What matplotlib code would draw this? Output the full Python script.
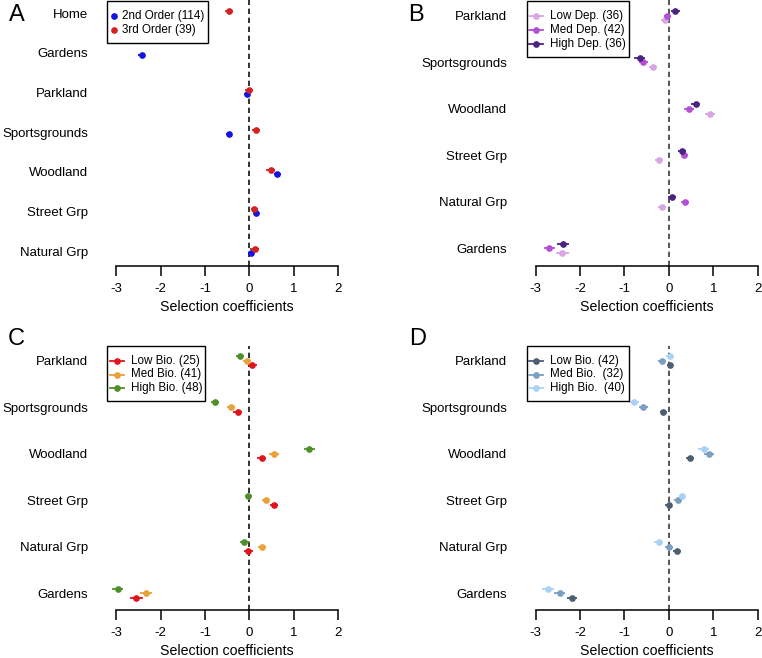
import numpy as np
import matplotlib
matplotlib.use("Agg")
import matplotlib.pyplot as plt
import matplotlib.patches as patches

plt.rcParams['font.family'] = ['Liberation Sans', 'DejaVu Sans']
plt.rcParams['axes.unicode_minus'] = False

# --- data ---
nan = np.nan
cats_a = ["Home", "Gardens", "Parkland", "Sportsgrounds", "Woodland", "Street Grp", "Natural Grp"]
order2 = [nan, -2.43, -0.06, -0.46, 0.63, 0.14, 0.03]
order2_err = [nan, 0.08, 0.07, 0.07, 0.08, 0.06, 0.07]
order3 = [-0.46, nan, -0.01, 0.15, 0.48, 0.11, 0.12]
order3_err = [0.09, nan, 0.09, 0.09, 0.10, 0.08, 0.10]
labels_a = ["2nd Order (114)", "3rd Order (39)"]

cats = ["Parkland", "Sportsgrounds", "Woodland", "Street Grp", "Natural Grp", "Gardens"]

dep_low = [-0.09, -0.35, 0.93, -0.22, -0.16, -2.40]
dep_med = [-0.04, -0.58, 0.45, 0.35, 0.36, -2.69]
dep_high = [0.14, -0.66, 0.60, 0.29, 0.07, -2.39]
dep_err = [[0.08, 0.09, 0.11, 0.09, 0.09, 0.14],
           [0.08, 0.10, 0.11, 0.08, 0.09, 0.13],
           [0.10, 0.12, 0.11, 0.09, 0.09, 0.13]]
labels_b = ["Low Dep. (36)", "Med Dep. (42)", "High Dep. (36)"]

bioc_low = [0.06, -0.26, 0.28, 0.55, -0.03, -2.55]
bioc_med = [-0.06, -0.42, 0.55, 0.37, 0.28, -2.33]
bioc_high = [-0.21, -0.78, 1.35, -0.03, -0.12, -2.97]
bioc_err = [[0.10, 0.10, 0.10, 0.09, 0.10, 0.15],
            [0.09, 0.09, 0.11, 0.09, 0.09, 0.13],
            [0.09, 0.09, 0.12, 0.08, 0.10, 0.12]]
labels_c = ["Low Bio. (25)", "Med Bio. (41)", "High Bio. (48)"]

biod_low = [0.02, -0.13, 0.48, 0.00, 0.18, -2.18]
biod_med = [-0.16, -0.58, 0.90, 0.20, 0.00, -2.46]
biod_high = [0.02, -0.78, 0.78, 0.30, -0.23, -2.72]
biod_err = [[0.07, 0.08, 0.09, 0.08, 0.09, 0.12],
            [0.09, 0.10, 0.12, 0.09, 0.09, 0.13],
            [0.08, 0.11, 0.12, 0.07, 0.10, 0.13]]
labels_d = ["Low Bio. (42)", "Med Bio.  (32)", "High Bio.  (40)"]

col_a = ["#1414e0", "#d42222"]
col_b = ["#d9a6e3", "#b24fd2", "#4a2383"]
col_c = ["#e0141c", "#e8a238", "#4f8f2a"]
col_d = ["#4b5f70", "#7b9fc2", "#a9d2f6"]

W, H = 762, 658
fig = plt.figure(figsize=(W / 100, H / 100), dpi=100)


def make_axes(left_px, top_px, bottom_px, ylim, dash_col):
    # axes rect from pixel coords; x range fixed at -3.2..2.2
    x1 = left_px + 5.4 * 44.4
    ax = fig.add_axes([left_px / W, 1 - bottom_px / H, (x1 - left_px) / W, (bottom_px - top_px) / H])
    ax.set_xlim(-3.2, 2.2)
    ax.set_ylim(*ylim)
    for s in ["top", "right", "left"]:
        ax.spines[s].set_visible(False)
    ax.spines["bottom"].set_bounds(-3, 2)
    ax.spines["bottom"].set_linewidth(1.1)
    ax.set_xticks([-3, -2, -1, 0, 1, 2])
    ax.set_xticklabels(["-3", "-2", "-1", "0", "1", "2"])
    ax.tick_params(axis="x", length=7.5, width=1.1, pad=5, labelsize=9.5)
    ax.tick_params(axis="y", length=0, pad=14, labelsize=9.5)
    ax.set_xlabel("Selection coefficients", fontsize=10.2, labelpad=3.5)
    ax.axvline(0, color=dash_col, lw=1.2, dashes=(3.2, 2.2), zorder=1)
    return ax


def draw_panel(ax, names, series, errs, colors, offsets):
    y = np.arange(len(names))
    ax.set_yticks(y)
    ax.set_yticklabels(names)
    for vals, e, c, off in zip(series, errs, colors, offsets):
        ax.errorbar(vals, y + off, xerr=e, fmt="o", color=c, ms=3.8,
                    elinewidth=1.3, capsize=0, zorder=3)


# overlay in pixel coordinates for the boxed keys and panel letters
over = fig.add_axes([0, 0, 1, 1], zorder=10)
over.set_xlim(0, W)
over.set_ylim(H, 0)
over.axis("off")


def draw_key(x0, y0, w, h, labels, colors, rows, line, text_x):
    over.add_patch(patches.Rectangle((x0, y0), w, h, facecolor="white",
                                     edgecolor="black", lw=1.0))
    for lab, c, ry in zip(labels, colors, rows):
        if line:
            over.plot([x0 + 2.6, x0 + 16.6], [ry, ry], color=c, lw=1.3)
            over.plot([x0 + 9.6], [ry], "o", color=c, ms=3.8)
        else:
            over.plot([x0 + 7], [ry], "o", color=c, ms=3.8)
        over.text(text_x, ry, lab, fontsize=8.4, va="center", ha="left")


# --- panel A ---
ax_a = make_axes(107.4, 0, 265.7, (6.37, -0.33), "#111111")
y_a = np.arange(len(cats_a))
ax_a.set_yticks(y_a)
ax_a.set_yticklabels(cats_a)
ax_a.errorbar(order2, y_a + 0.05, xerr=order2_err, fmt="o", color=col_a[0], ms=3.8,
              elinewidth=1.3, capsize=0, zorder=3)
ax_a.errorbar(order3, y_a - 0.05, xerr=order3_err, fmt="o", color=col_a[1], ms=3.8,
              elinewidth=1.3, capsize=0, zorder=3)
draw_key(107.4, 1, 100.3, 42, labels_a, col_a, [16, 30], False, 121.7)

offs = [0.1, 0.0, -0.1]

# --- panel B ---
ax_b = make_axes(526.8, 0, 265.7, (5.37, -0.34), "#3a3a3a")
draw_panel(ax_b, cats, [dep_low, dep_med, dep_high], dep_err, col_b, offs)
draw_key(526.8, 1, 102.2, 56, labels_b, col_b, [15.7, 30, 44.2], True, 550)

# --- panel C ---
ax_c = make_axes(107.4, 345.7, 610, (5.36, -0.32), "#111111")
draw_panel(ax_c, cats, [bioc_low, bioc_med, bioc_high], bioc_err, col_c, offs)
draw_key(107.4, 345.7, 98, 55.3, labels_c, col_c, [360.7, 374.5, 388.3], True, 131)

# --- panel D ---
ax_d = make_axes(526.8, 345.7, 610, (5.36, -0.32), "#3a3a3a")
draw_panel(ax_d, cats, [biod_low, biod_med, biod_high], biod_err, col_d, offs)
draw_key(526.8, 345.7, 102.2, 55.3, labels_d, col_d, [360.7, 374.5, 388.3], True, 550)

# panel letters
for txt, xp, yp in [("A", 9, 15), ("B", 408, 15), ("C", 8, 339), ("D", 409, 339)]:
    over.text(xp, yp, txt, fontsize=17, va="center", ha="left")

fig.savefig("out.png", dpi=100)
